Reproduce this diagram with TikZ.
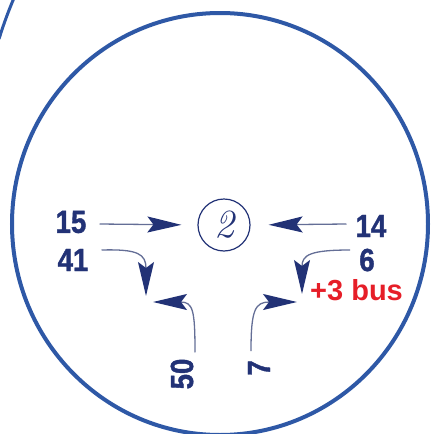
\documentclass[tikz,border=0pt]{standalone}
\usepackage{fontspec}
\usetikzlibrary{arrows.meta,calc}
\newfontfamily\numfont{Liberation Sans}[FakeStretch=0.86,FakeBold=1.2]
\newfontfamily\busfont{Liberation Sans}

\definecolor{ringblue}{RGB}{46,88,166}
\definecolor{navy}{RGB}{34,50,118}
\definecolor{shaftgray}{RGB}{100,110,150}
\definecolor{busred}{RGB}{230,30,40}

\tikzset{
  numlabel/.style={inner sep=0pt, text=navy, font=\numfont\bfseries\fontsize{32}{32}\selectfont},
  buslabel/.style={inner sep=0pt, text=busred, font=\busfont\bfseries\fontsize{29}{29}\selectfont},
  flow/.style={draw=shaftgray, line width=1.3pt,
    -{Stealth[length=34pt,width=16pt,inset=6pt,fill=navy,color=navy]}},
}

\begin{document}
\begin{tikzpicture}[x=1pt,y=1pt,yscale=-1,xscale=1]
		\useasboundingbox (0,0) rectangle (433,434);
		
		%Shape: Ellipse (the big ring)
		\draw [ringblue, line width=4pt] (220,224) ellipse [x radius=208, y radius=211];
		%Shape: Arc (edge of the next ring)
		\draw [ringblue, line width=3pt] (-1,39) .. controls (3,26) and (8,12) .. (14,-2) ;
		
		%Shape: Circle (the number in the middle)
		\node (two) [circle, draw=navy, line width=1.2pt, minimum size=52pt, inner sep=0pt, text=navy,
		  font=\fontsize{40}{40}\selectfont\itshape] at (224,225) {2};
		
		% Text Node
		\node (n15) [numlabel] at (71,222) {15};
		% Text Node
		\node (n14) [numlabel] at (371,226) {14};
		% Text Node
		\node (n41) [numlabel] at (73,260) {41};
		% Text Node
		\node (n6) [numlabel] at (367,260) {6};
		% Text Node
		\node (bus) [buslabel, anchor=west] at (310,290) {+3 bus};
		% Text Node
		\node (n50) [numlabel, rotate=90] at (182,374) {50};
		% Text Node
		\node (n7) [numlabel, rotate=90] at (259,368) {7};
		
		%Tips of the curved arrows
		\coordinate (t41) at (146,296);
		\coordinate (t50) at (153,302);
		\coordinate (t7) at (297,302);
		\coordinate (t6) at (302,294);
		
		%Straight Lines
		\draw [flow, shorten >=16pt] ($(n15.east)+(13,2)$) -- (two.west) ;
		\draw [flow, shorten >=18pt] ($(n14.west)+(-9,-2)$) -- (two.east) ;
		%Shape: Bezier Curves
		\draw [flow] ($(n41.east)+(13,-10)$) .. controls (138,249) and (146,254) .. (t41) ;
		\draw [flow] ($(n6.west)+(-9,-10)$) .. controls (310,250) and (302,255) .. (t6) ;
		\draw [flow] ($(n50.east)+(13,-6)$) .. controls (195,310) and (193,302) .. (t50) ;
		\draw [flow] ($(n7.east)+(-8,-9)$) .. controls (251,310) and (255,302) .. (t7) ;
	\end{tikzpicture}
\end{document}
